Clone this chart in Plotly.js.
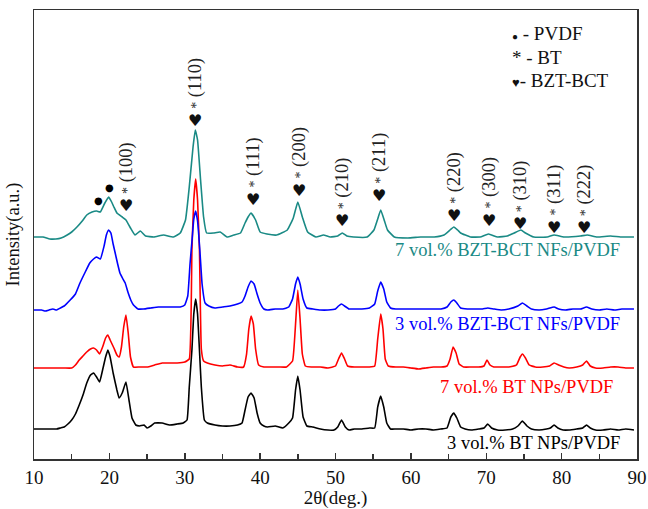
<!DOCTYPE html>
<html>
<head>
<meta charset="utf-8">
<script src="https://cdn.plot.ly/plotly-3.0.1.min.js"></script>
<style>html,body{margin:0;padding:0;background:#fff;}#chart{width:648px;height:509px;}</style>
</head>
<body>
<div id="chart"></div>
<script>
// ---- data (2θ in degrees, intensity in arbitrary units, curves offset vertically) ----
var twoTheta_3BT = [10,11,12,13,13.5,14,14.5,15,15.5,16,16.5,17,17.5,17.9,18.3,18.7,19.1,19.5,19.8,20.1,20.5,21,21.3,21.7,22.2,22.6,23,23.5,24,24.6,25,25.5,26,27,28,29,29.8,30.3,30.6,30.95,31.2,31.45,31.7,31.95,32.2,32.6,33,34,35,36,37,37.6,38,38.4,38.8,39.2,39.6,40,40.5,41,42,43,43.8,44.3,44.7,45,45.3,45.7,46.2,47,48,49,49.8,50.3,50.8,51.3,51.8,52.5,53.5,54.5,55.2,55.6,56,56.4,56.8,57.3,58,59,60,61,62,63,64,64.8,65.3,65.7,66.1,66.6,67.2,68,69,69.7,70.2,70.7,71.5,72.5,73.5,74.2,74.8,75.4,76,77,78,78.5,79,79.5,80.2,81,82,82.8,83.3,83.8,84.5,85.5,86.5,87.5,88.5,89.6];
var intensity_3BT = [30,30,30,30,31,32,35,39,45,54,64,76,84,86,82,77,89,102,109,102,86,69,61,66,77,59,41,34,33,34,31,33,36,36,34,35,36,39,72,109,145,160,145,109,72,39,36,34,33,33,34,36,49,62,66,61,46,36,33,32,33,31,36,41,69,83,69,42,33,32,30,29,29,32,39,32,29,30,30,31,31,52,63,52,36,30,30,30,29,30,30,29,30,31,42,46,41,32,30,29,30,31,35,31,29,29,30,33,38,33,30,29,30,31,34,31,29,29,30,31,34,31,29,29,30,29,30,29];

var twoTheta_7BT = [10,11,12,13,14,15,15.5,16,16.5,17,17.5,17.9,18.3,18.7,19.1,19.5,19.8,20.1,20.6,21,21.3,21.6,21.9,22.2,22.5,22.8,23.2,24,25,26,27,28,29,30,30.6,30.95,31.2,31.45,31.7,31.95,32.2,32.5,33,34,35,36,37,37.8,38.2,38.5,38.8,39.1,39.4,39.8,40.5,41.5,42.5,43.5,44.3,44.7,45,45.3,45.6,46,46.8,48,49,50,50.4,50.8,51.2,51.6,52.5,53.5,54.5,55.2,55.6,56,56.3,56.6,57,58,59,60,61,62,63,64,64.8,65.2,65.6,66,66.4,67,68,69,69.7,70.1,70.5,71,72,73,74,74.5,74.8,75.2,75.7,76.5,77.5,78.4,79,79.6,80.3,81,82,82.8,83.3,83.8,84.5,85.5,86.5,87.5,88.5,89.6];
var intensity_7BT = [91,91,91,91,91,91,94,99,103,107,110,111,109,105,112,121,124,119,111,104,102,112,132,144,126,102,92,92,92,94,96,96,96,97,100,209,259,280,259,209,110,98,96,94,93,94,92,92,105,130,143,135,110,94,92,92,92,92,98,135,169,140,105,93,92,92,91,93,100,106,100,93,92,92,92,93,120,145,130,100,93,92,92,91,90,91,92,92,93,100,112,106,95,92,92,92,93,99,94,92,92,92,94,102,105,101,94,92,92,93,96,94,92,91,92,94,98,93,91,91,92,92,91,91];

var twoTheta_3BZT = [10,11,11.5,12,12.5,13,13.5,14,14.8,15.5,16.1,16.8,17.4,17.9,18.3,18.8,19.3,19.6,19.9,20.2,20.5,20.8,21.1,21.4,21.8,22.1,22.5,22.9,23.2,23.8,24.5,25.5,26.5,27.5,28.5,29.4,30,30.4,30.7,31,31.2,31.45,31.7,32,32.3,32.7,33.2,34,35,36,37,37.6,38,38.4,38.8,39.2,39.6,40,40.5,41,42,43,43.8,44.3,44.7,45,45.3,45.7,46.2,47,48,49,50,50.4,50.8,51.2,51.8,52.5,53.5,54.5,55.2,55.6,56,56.4,56.8,57.3,58,59,60,61,62,63,64,64.8,65.3,65.7,66.1,66.6,67.5,68.5,69.5,70.2,71,72,73,74.2,74.8,75.4,76,77,78,79,79.6,80.5,81.5,82.5,83.3,84,85,86,87,88,89.6];
var intensity_3BZT = [149,149,148,149,150,149,151,153,159,165,176,187,196,200,202,200,213,224,229,226,215,205,195,186,180,176,166,158,154,150,150,151,152,152,152,152,154,163,195,222,240,248,238,209,175,156,153,151,152,153,155,157,163,172,178,175,165,156,150,149,150,150,152,160,175,182,175,160,151,150,149,149,150,153,155,153,150,150,150,151,155,168,177,170,157,151,150,150,150,150,150,150,150,152,157,159,156,151,150,150,150,151,150,149,150,153,156,153,150,149,150,152,150,149,150,150,152,150,149,150,149,150,150];

var twoTheta_7BZT = [10,11.2,12.1,12.9,13.6,14.4,15,15.7,16.4,17,17.7,18.3,18.8,19.4,19.9,20.3,20.6,21,21.7,22.2,22.8,23.4,24.1,24.8,25.9,27.2,28.5,29.4,30.1,30.6,31.1,31.4,31.7,32.1,32.5,32.9,33.8,34.7,35.6,36.5,37.4,38,38.4,38.8,39.4,40,40.9,42.2,43.6,44.4,45,45.6,46.3,47.4,48.4,49.3,50.3,50.9,51.5,52.4,54.2,55.1,55.6,56,56.5,56.9,57.8,59.6,61.3,63.1,64.4,65.2,65.7,66.2,66.6,67.9,69.2,70.3,71.5,72.8,73.7,74.6,75.2,76.3,78.1,79,80.3,82.5,83.4,84.7,86.5,87.8,89.6];
var intensity_7BZT = [222,222,220,220,221,224,227,232,238,244,247,248,247,256,262,257,252,246,242,239,231,224,228,223,222,224,222,226,239,272,312,329,319,279,242,226,226,227,222,224,226,236,242,246,239,227,225,224,229,241,257,242,227,222,224,222,223,226,223,222,222,229,240,249,238,229,222,221,222,222,224,229,232,229,226,222,222,225,222,223,226,229,226,222,222,224,222,223,224,222,223,222,222];

var seriesNames = ['3 vol.% BT NPs/PVDF','7 vol.% BT NPs/PVDF','3 vol.% BZT-BCT NFs/PVDF','7 vol.% BZT-BCT NFs/PVDF'];
var seriesColors = ['#000000','#ff0000','#0000ff','#1a8a85'];
var seriesLabelX = [88.0, 87.1, 88.0, 88.0];
var seriesLabelY = [16, 72, 135, 209];

var peakPos   = [22.2, 31.4, 39.0, 45.1, 50.9, 55.8, 65.7, 70.3, 74.5, 79.0, 83.0];
var peakHKL   = ['(100)','(110)','(111)','(200)','(210)','(211)','(220)','(300)','(310)','(311)','(222)'];
var peakMarkY = [254, 339, 260, 269, 239, 264, 244, 239, 236, 232, 232];
var pvdfPos   = [18.5, 20.0];
var pvdfMarkY = [259, 272];
var keyLines  = ['<span style="font-size:10px">●</span> - PVDF', '* - BT', '<span style="font-size:13px">♥</span>- BZT-BCT'];
var keyY      = [426, 402, 379];

// ---- build ----
var serif = '"Liberation Serif", "Times New Roman", Times, serif';
var fs = 18.5;
var xs = [twoTheta_3BT, twoTheta_7BT, twoTheta_3BZT, twoTheta_7BZT];
var ys = [intensity_3BT, intensity_7BT, intensity_3BZT, intensity_7BZT];
var traces = [];
for (var i = 0; i < 4; i++) {
  traces.push({x: xs[i], y: ys[i], type: 'scatter', mode: 'lines', name: seriesNames[i],
    line: {color: seriesColors[i], width: 1.6, shape: 'spline', smoothing: 0.35}, hoverinfo: 'skip'});
}
var ann = [];
for (var i = 0; i < 4; i++) {
  ann.push({x: seriesLabelX[i], y: seriesLabelY[i], xref: 'x', yref: 'y', text: seriesNames[i],
    showarrow: false, xanchor: 'right', yanchor: 'middle', font: {family: serif, size: fs, color: seriesColors[i]}});
}
for (var j = 0; j < peakPos.length; j++) {
  ann.push({x: peakPos[j], y: peakMarkY[j], xref: 'x', yref: 'y', text: '♥', showarrow: false,
    xanchor: 'center', yanchor: 'middle', borderpad: 0, font: {family: 'DejaVu Sans', size: 16, color: '#111'}});
  ann.push({x: peakPos[j], y: peakMarkY[j], xref: 'x', yref: 'y',
    text: '<span style="font-size:14px">*</span> ' + peakHKL[j], showarrow: false, yshift: 10,
    textangle: -90, xanchor: 'center', yanchor: 'bottom', borderpad: 0, font: {family: serif, size: fs, color: '#222'}});
}
for (var k = 0; k < pvdfPos.length; k++) {
  ann.push({x: pvdfPos[k], y: pvdfMarkY[k], xref: 'x', yref: 'y', text: '●', showarrow: false,
    xanchor: 'center', yanchor: 'middle', font: {family: 'DejaVu Sans', size: 10, color: '#000'}});
}
for (var m = 0; m < keyLines.length; m++) {
  ann.push({x: 0.789, y: keyY[m], xref: 'paper', yref: 'y', text: keyLines[m], showarrow: false,
    xanchor: 'left', yanchor: 'middle', font: {family: serif, size: 19, color: '#111'}});
}

var layout = {
  width: 648, height: 509,
  margin: {l: 34, r: 11, t: 10, b: 50},
  paper_bgcolor: '#fff', plot_bgcolor: '#fff',
  showlegend: false,
  font: {family: serif, color: '#111'},
  xaxis: {range: [10, 90], tick0: 10, dtick: 10, ticks: 'inside', ticklen: 6, tickwidth: 1.5, tickcolor: '#333',
    showline: true, linecolor: '#333', linewidth: 1.5, mirror: true, showgrid: false, zeroline: false,
    minor: {dtick: 5, ticks: 'inside', ticklen: 5, tickwidth: 1.5, tickcolor: '#333', showgrid: false},
    tickfont: {family: serif, size: 19, color: '#111'}, ticklabelstandoff: 1,
    title: {text: '2θ(deg.)', font: {family: serif, size: 19, color: '#111'}, standoff: 0}},
  yaxis: {range: [0, 449], showticklabels: false, ticks: '', showline: true, linecolor: '#333', linewidth: 1.5,
    mirror: true, showgrid: false, zeroline: false,
    title: {text: 'Intensity(a.u.)', font: {family: serif, size: fs, color: '#111'}, standoff: 8}},
  annotations: ann
};
Plotly.newPlot('chart', traces, layout, {displayModeBar: false, staticPlot: true});
</script>
</body>
</html>
